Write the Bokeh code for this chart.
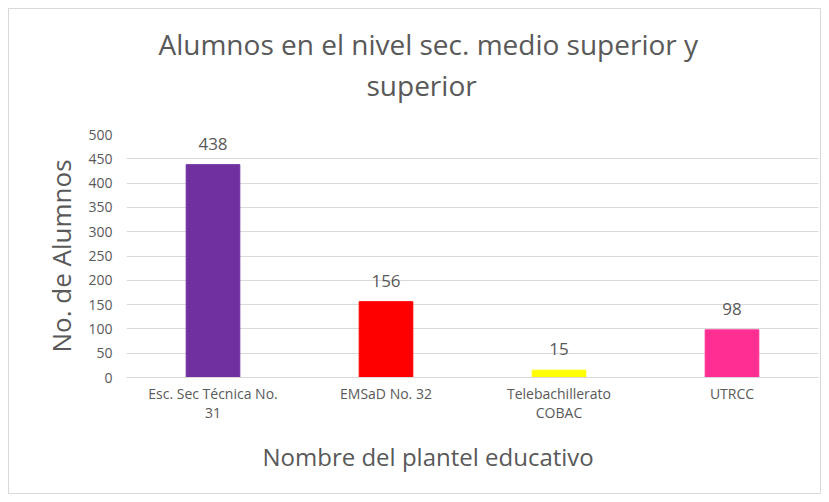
from bokeh.plotting import figure
from bokeh.models import ColumnDataSource, Title, LabelSet, Range1d, FixedTicker
from bokeh.core.properties import value
from bokeh.embed import file_html
from bokeh.resources import INLINE

categories = ["Esc. Sec Técnica No.\n31", "EMSaD No. 32", "Telebachillerato\nCOBAC", "UTRCC"]
alumnos = [438, 156, 15, 98]
colors = ["#7030A0", "#FF0000", "#FFFF00", "#FF2E93"]
y_ticks = [0, 50, 100, 150, 200, 250, 300, 350, 400, 450, 500]

FONT = "Open Sans"
GRAY = "#595959"

src = ColumnDataSource(dict(cat=categories, val=alumnos, color=colors,
                            lab=[str(v) for v in alumnos]))

p = figure(x_range=categories, y_range=Range1d(0, 500), width=813, height=486,
           output_backend="svg", toolbar_location=None,
           min_border_left=117, min_border_right=4, min_border_top=125, min_border_bottom=118)

p.vbar(x="cat", top="val", width=0.31, color="color", source=src)

labels = LabelSet(x="cat", y="val", text="lab", source=src, text_align="center",
                  text_baseline="bottom", y_offset=15, text_font=value(FONT),
                  text_font_size="17px", text_color=GRAY)
p.add_layout(labels)

t2 = Title(text="superior", align="left", text_font=FONT, text_font_size="28px",
           text_font_style="normal", text_color=GRAY, offset=240, standoff=61)
t1 = Title(text="Alumnos en el nivel sec. medio superior y", align="left", text_font=FONT,
           text_font_size="28px", text_font_style="normal", text_color=GRAY, offset=32, standoff=-59)
p.add_layout(t2, "above")
p.add_layout(t1, "above")

p.yaxis.ticker = FixedTicker(ticks=y_ticks)
p.yaxis.axis_label = "No. de Alumnos"
for ax in (p.xaxis, p.yaxis):
    ax.axis_label_text_font = FONT
    ax.axis_label_text_font_style = "normal"
    ax.axis_label_text_color = GRAY
    ax.major_label_text_font = FONT
    ax.major_label_text_color = GRAY
    ax.major_tick_line_color = None
    ax.minor_tick_line_color = None
p.yaxis.axis_label_text_font_size = "26px"
p.yaxis.major_label_text_font_size = "14px"
p.xaxis.major_label_text_font_size = "14px"
p.yaxis.axis_line_color = None
p.xaxis.axis_line_color = "#d9d9d9"
p.yaxis.major_label_standoff = 8
p.yaxis.axis_label_standoff = 6
p.xaxis.major_label_standoff = 0
p.xaxis.major_label_text_line_height = 1.0

xt = Title(text="Nombre del plantel educativo", align="left", text_font=FONT,
           text_font_size="24px", text_font_style="normal", text_color=GRAY,
           offset=136, standoff=26)
p.add_layout(xt, "below")

p.xgrid.grid_line_color = None
p.ygrid.grid_line_color = "#d9d9d9"
p.outline_line_color = None
p.x_range.range_padding = 0
p.styles = {"border": "1px solid #d9d9d9", "margin": "8px"}

open("out.html", "w").write(file_html(p, INLINE))
